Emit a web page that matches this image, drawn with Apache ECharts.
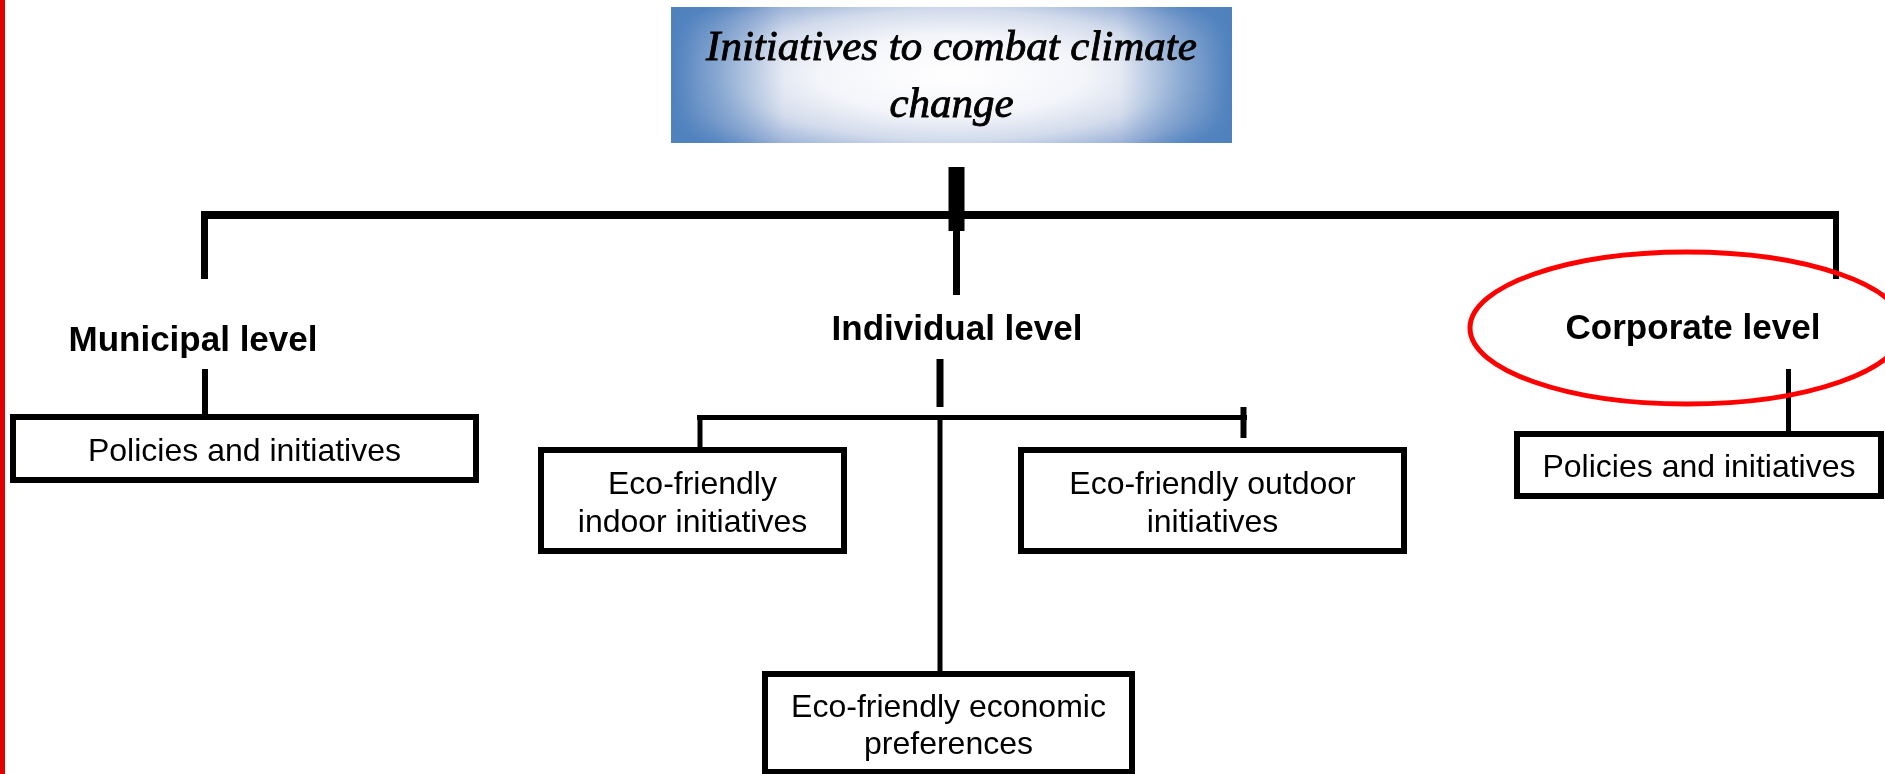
<!DOCTYPE html>
<html>
<head>
<meta charset="utf-8">
<script src="https://cdn.jsdelivr.net/npm/echarts@6/dist/echarts.min.js"></script>
<style>
  html, body { margin: 0; padding: 0; background: #ffffff; }
  #chart { width: 1885px; height: 774px; }
</style>
</head>
<body>
<div id="chart"></div>
<script>
// ---- content ----
const titleLines = ['Initiatives to combat climate', 'change'];
const levelNames = ['Municipal level', 'Individual level', 'Corporate level'];
const municipalItems = ['Policies and initiatives'];
const individualItems = ['Eco-friendly\nindoor initiatives', 'Eco-friendly outdoor\ninitiatives', 'Eco-friendly economic\npreferences'];
const corporateItems = ['Policies and initiatives'];
const highlightedLevel = 'Corporate level';

// ---- layout (pixel positions of the diagram) ----
const LAYOUT = {
  title: { x: 671, y: 7, w: 561, h: 136, textY: 77, lineHeight: 57 },
  levels: [
    { x: 193, y: 341 },
    { x: 957, y: 330 },
    { x: 1693, y: 329 }
  ],
  municipalBoxes: [ { x0: 10, y0: 414, x1: 479, y1: 483, ty: 452, lh: 38 } ],
  individualBoxes: [
    { x0: 538, y0: 447, x1: 847, y1: 554, ty: 504, lh: 38 },
    { x0: 1018, y0: 447, x1: 1407, y1: 554, ty: 504, lh: 38 },
    { x0: 762, y0: 671, x1: 1135, y1: 775, ty: 727, lh: 37 }
  ],
  corporateBoxes: [ { x0: 1514, y0: 431, x1: 1884, y1: 499, ty: 468, lh: 38 } ],
  // [x1, y1, x2, y2, thickness]
  connectors: [
    [948.5, 167, 964.5, 231, 0],      // thick stem (rect)
    [956.5, 231, 956.5, 295, 7],
    [201, 215, 1839, 215, 8],
    [204.5, 211, 204.5, 279, 7],
    [1836, 211, 1836, 279, 6],
    [205, 369, 205, 414, 6],
    [940, 359, 940, 407, 7],
    [697, 417.5, 1247, 417.5, 5],
    [700, 415, 700, 447, 5],
    [1243.5, 407, 1243.5, 438, 6],
    [940, 415, 940, 671, 5],
    [1788.5, 369, 1788.5, 431, 5]
  ],
  highlight: { cx: 1687, cy: 328, rx: 217, ry: 76 }
};

const chart = echarts.init(document.getElementById('chart'), null, { renderer: 'canvas' });
const elements = [];

// left red margin bar
elements.push({ type: 'rect', shape: { x: 0, y: 0, width: 5, height: 774 }, style: { fill: '#e00000' }, z: 1 });

// title box with elliptical radial glow (scaled rect)
const T = LAYOUT.title;
const glowRx = 330, glowRy = 100;
const h0 = 100, sY = T.h / h0, sX = sY * glowRx / glowRy, w0 = T.w / sX;
elements.push({
  type: 'rect', x: T.x, y: T.y, scaleX: sX, scaleY: sY,
  shape: { x: 0, y: 0, width: w0, height: h0 },
  style: {
    fill: new echarts.graphic.RadialGradient(0.5, 0.5, glowRy / T.h, [
      { offset: 0, color: '#ffffff' },
      { offset: 0.4, color: '#f4f5fa' },
      { offset: 0.65, color: '#d3dcec' },
      { offset: 0.86, color: '#9ab1d7' },
      { offset: 1, color: '#5787c2' }
    ])
  },
  z: 2
});
elements.push({
  type: 'rect', shape: { x: T.x, y: T.y, width: T.w, height: T.h },
  style: {
    fill: new echarts.graphic.LinearGradient(0, 0, 1, 0, [
      { offset: 0, color: 'rgba(79,129,189,1)' },
      { offset: 0.05, color: 'rgba(79,129,189,0.65)' },
      { offset: 0.2, color: 'rgba(79,129,189,0)' },
      { offset: 0.8, color: 'rgba(79,129,189,0)' },
      { offset: 0.95, color: 'rgba(79,129,189,0.65)' },
      { offset: 1, color: 'rgba(79,129,189,1)' }
    ])
  },
  z: 2
});
elements.push({
  type: 'text', x: T.x + T.w / 2, y: T.textY,
  style: {
    text: titleLines.join('\n'), fill: '#000', stroke: '#000', lineWidth: 0.9,
    font: 'italic 43px "Liberation Serif", serif', lineHeight: T.lineHeight,
    align: 'center', verticalAlign: 'middle'
  },
  z: 3
});

// connectors
LAYOUT.connectors.forEach(function (c) {
  let x, y, w, h;
  if (c[4] === 0) { x = c[0]; y = c[1]; w = c[2] - c[0]; h = c[3] - c[1]; }
  else if (c[0] === c[2]) { x = c[0] - c[4] / 2; y = c[1]; w = c[4]; h = c[3] - c[1]; }
  else { x = c[0]; y = c[1] - c[4] / 2; w = c[2] - c[0]; h = c[4]; }
  elements.push({ type: 'rect', shape: { x: x, y: y, width: w, height: h }, style: { fill: '#000' }, z: 4 });
});

// level headings
levelNames.forEach(function (name, i) {
  elements.push({
    type: 'text', x: LAYOUT.levels[i].x, y: LAYOUT.levels[i].y,
    style: { text: name, fill: '#000', font: 'bold 35px "Liberation Sans", Arial, sans-serif', align: 'center', verticalAlign: 'middle' },
    z: 6
  });
});

// highlight ellipse
const H = LAYOUT.highlight;
if (levelNames.indexOf(highlightedLevel) >= 0) {
  elements.push({
    type: 'ellipse', shape: { cx: H.cx, cy: H.cy, rx: H.rx, ry: H.ry },
    style: { fill: null, stroke: '#ff0000', lineWidth: 5 }, z: 5
  });
}

// boxes
function addBoxes(items, boxes) {
  items.forEach(function (txt, i) {
    const b = boxes[i];
    const lw = 6;
    elements.push({
      type: 'rect',
      shape: { x: b.x0 + lw / 2, y: b.y0 + lw / 2, width: b.x1 - b.x0 - lw, height: b.y1 - b.y0 - lw },
      style: { fill: '#ffffff', stroke: '#000000', lineWidth: lw }, z: 7
    });
    elements.push({
      type: 'text', x: (b.x0 + b.x1) / 2, y: b.ty,
      style: { text: txt, fill: '#000', font: '32px "Liberation Sans", Arial, sans-serif', lineHeight: b.lh, align: 'center', verticalAlign: 'middle' },
      z: 8
    });
  });
}
addBoxes(municipalItems, LAYOUT.municipalBoxes);
addBoxes(individualItems, LAYOUT.individualBoxes);
addBoxes(corporateItems, LAYOUT.corporateBoxes);

chart.setOption({
  animation: false,
  backgroundColor: '#ffffff',
  graphic: { elements: elements }
});
</script>
</body>
</html>
